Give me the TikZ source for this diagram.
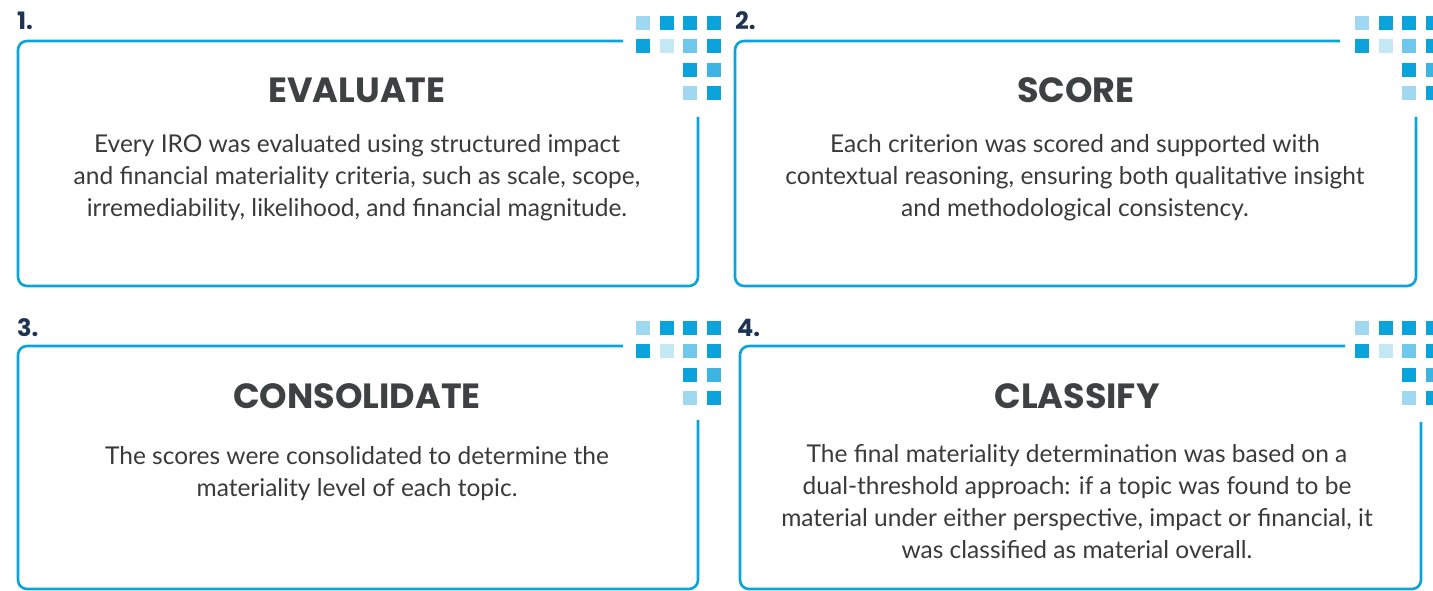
\documentclass[tikz,border=0pt]{standalone}
\usepackage{fontspec}
\setmainfont{Lato}
\newfontfamily\headfont{Poppins}
\usepackage{tikz}
\definecolor{frameblue}{HTML}{0AA3DC}
\definecolor{sqlight}{HTML}{A0D8F1}
\definecolor{sqpale}{HTML}{C5E8F5}
\definecolor{sqmid}{HTML}{6EC8EE}
\definecolor{sqsoft}{HTML}{3DB5E3}
\definecolor{navy}{HTML}{1C3351}
\definecolor{titlegray}{HTML}{3D4142}
\definecolor{bodygray}{HTML}{3A3A3A}
\newcommand{\Squares}[2]{%
  \fill[sqlight] (#1,#2) rectangle ++(14,14);
  \fill[frameblue] (#1+24,#2) rectangle ++(14,14);
  \fill[frameblue] (#1+47,#2) rectangle ++(14,14);
  \fill[frameblue] (#1+71,#2) rectangle ++(14,14);
  \fill[frameblue] (#1,#2+23) rectangle ++(14,14);
  \fill[sqpale] (#1+24,#2+23) rectangle ++(14,14);
  \fill[sqmid] (#1+47,#2+23) rectangle ++(14,14);
  \fill[frameblue] (#1+71,#2+23) rectangle ++(14,14);
  \fill[frameblue] (#1+47,#2+47) rectangle ++(14,14);
  \fill[sqsoft] (#1+71,#2+47) rectangle ++(14,14);
  \fill[sqlight] (#1+47,#2+70) rectangle ++(14,14);
  \fill[frameblue] (#1+71,#2+70) rectangle ++(14,14);
}

\begin{document}
\begin{tikzpicture}[x=1pt,y=-1pt,
  frame/.style={draw=frameblue,line width=2.6pt,rounded corners=9pt},
  num/.style={anchor=base west,inner sep=0pt,text=navy,font=\headfont\bfseries\fontsize{24}{24}\selectfont},
  title/.style={anchor=base,inner sep=0pt,text=titlegray,font=\headfont\bfseries\fontsize{35}{35}\selectfont},
  body/.style={anchor=base,inner sep=0pt,align=center,text=bodygray,font=\fontsize{24.5}{32}\selectfont}]
\useasboundingbox (0,0) rectangle (1433,591);

\Squares{636}{16}
\Squares{1355}{16}
\Squares{636}{321}
\Squares{1355}{321}

\coordinate (e1) at (623,41);
\coordinate (f1) at (698,117);
\draw[frame] (e1) -- (18,41) -- (18,286) -- (698,286) -- (f1);
\coordinate (e2) at (1340,41);
\coordinate (f2) at (1416,117);
\draw[frame] (e2) -- (735,41) -- (735,286) -- (1416,286) -- (f2);
\coordinate (e3) at (623,346);
\coordinate (f3) at (698,420);
\draw[frame] (e3) -- (18,346) -- (18,589) -- (698,589) -- (f3);
\coordinate (e4) at (1345,346);
\coordinate (f4) at (1421,422);
\draw[frame] (e4) -- (740,346) -- (740,589) -- (1421,589) -- (f4);

\node [num] (n1) at (17,30) {1.};
\node [num] (n2) at (735,30) {2.};
\node [num] (n3) at (17,336) {3.};
\node [num] (n4) at (737,336) {4.};

\node [title] (t1) at (357,103) {EVALUATE};
\node [title] (t2) at (1076,103) {SCORE};
\node [title] (t3) at (357,408) {CONSOLIDATE};
\node [title] (t4) at (1077,408) {CLASSIFY};

\node [body] (b1) at (357,216) {Every IRO was evaluated using structured impact\\and financial materiality criteria, such as scale, scope,\\irremediability, likelihood, and financial magnitude.};
\node [body] (b2) at (1075,216) {Each criterion was scored and supported with\\contextual reasoning, ensuring both qualitative insight\\and methodological consistency.};
\node [body] (b3) at (357,496) {The scores were consolidated to determine the\\materiality level of each topic.};
\node [body] (b4) at (1077,558) {The final materiality determination was based on a\\dual-threshold approach: if a topic was found to be\\material under either perspective, impact or financial, it\\was classified as material overall.};
\end{tikzpicture}
\end{document}
